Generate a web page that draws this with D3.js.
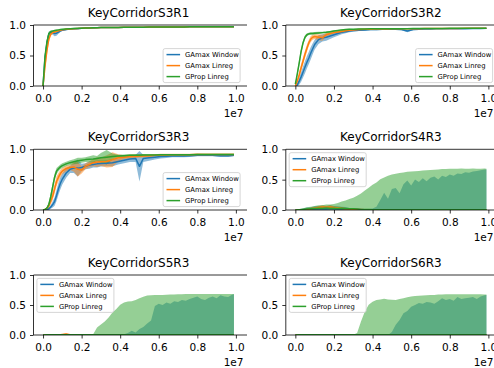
<!DOCTYPE html>
<html><head><meta charset="utf-8">
<script src="https://cdn.jsdelivr.net/npm/d3@7"></script>
<style>body{margin:0;background:#fff}svg{display:block}text{font-family:"DejaVu Sans",sans-serif}</style>
</head><body><svg id="c" width="494" height="368"></svg>
<script>
const titles = ["KeyCorridorS3R1","KeyCorridorS3R2","KeyCorridorS3R3","KeyCorridorS4R3","KeyCorridorS5R3","KeyCorridorS6R3"];
const seriesNames = ["GAmax Window","GAmax Linreg","GProp Linreg"];
const colors = ["#1f77b4","#ff7f0e","#2ca02c"];
const xTicks = [0,0.2,0.4,0.6,0.8,1.0]; // x 1e7
const yTicks = [0,0.5,1.0];

// environment steps, in millions
const stepsA = [0,0.1,0.2,0.3,0.4,0.5,0.6,0.7,0.8,0.9,1.0,1.2,1.4,1.6,1.8,2.0,2.2,2.4,2.6,2.8,3.0,3.3,3.6,3.9,4.2,4.5,4.8,5.0,5.2,5.5,5.8,6.1,6.4,6.7,7.0,7.3,7.6,8.0,8.4,8.8,9.2,9.6,9.9];
const stepsB = [0,0.2,0.4,0.6,0.8,1,1.2,1.4,1.6,1.8,2,2.2,2.4,2.6,2.8,3,3.2,3.4,3.6,3.8,4,4.2,4.4,4.6,4.8,5,5.2,5.4,5.6,5.8,6,6.2,6.4,6.6,6.8,7,7.2,7.4,7.6,7.8,8,8.2,8.4,8.6,8.8,9,9.2,9.4,9.6,9.8,9.9];

// KeyCorridorS3R1
const s3r1Blue = [0,0.45,0.70,0.85,0.88,0.875,0.86,0.865,0.885,0.905,0.915,0.925,0.935,0.94,0.94,0.945,0.95,0.95,0.952,0.955,0.957,0.96,0.96,0.96,0.962,0.963,0.964,0.965,0.965,0.966,0.966,0.967,0.968,0.968,0.969,0.969,0.97,0.97,0.97,0.97,0.97,0.97,0.97];
const s3r1BlueDev = [0,0.06,0.06,0.04,0.03,0.035,0.045,0.04,0.03,0.02,0.015,0.012,0.01,0.015,0.01,0.008,0.007,0.006,0.006,0.005,0.005,0.005,0.004,0.005,0.004,0.004,0.004,0.004,0.004,0.003,0.003,0.003,0.003,0.003,0.003,0.003,0.003,0.003,0.003,0.003,0.003,0.003,0.003];
const s3r1Orange = [0,0.32,0.58,0.77,0.85,0.875,0.885,0.895,0.905,0.915,0.92,0.93,0.935,0.94,0.943,0.946,0.95,0.95,0.953,0.955,0.957,0.96,0.96,0.961,0.962,0.963,0.964,0.965,0.965,0.966,0.966,0.967,0.968,0.968,0.969,0.969,0.97,0.97,0.97,0.97,0.97,0.97,0.97];
const s3r1OrangeDev = [0,0.08,0.07,0.05,0.03,0.02,0.015,0.012,0.01,0.01,0.01,0.008,0.008,0.007,0.006,0.006,0.005,0.005,0.005,0.005,0.004,0.004,0.004,0.004,0.004,0.004,0.004,0.004,0.004,0.004,0.004,0.004,0.004,0.004,0.004,0.004,0.004,0.004,0.004,0.004,0.004,0.004,0.004];
const s3r1Green = [0,0.48,0.72,0.86,0.89,0.90,0.91,0.915,0.92,0.925,0.93,0.935,0.94,0.942,0.945,0.948,0.95,0.952,0.954,0.955,0.957,0.96,0.96,0.961,0.962,0.963,0.964,0.965,0.965,0.966,0.966,0.967,0.968,0.968,0.969,0.969,0.97,0.97,0.97,0.97,0.97,0.97,0.97];
const s3r1GreenDev = [0,0.06,0.05,0.03,0.02,0.015,0.01,0.01,0.008,0.008,0.006,0.006,0.006,0.006,0.006,0.006,0.006,0.006,0.006,0.006,0.004,0.004,0.004,0.004,0.004,0.004,0.004,0.004,0.004,0.004,0.004,0.004,0.004,0.004,0.004,0.004,0.004,0.004,0.004,0.004,0.004,0.004,0.004];

// KeyCorridorS3R2
const s3r2Blue = [0,0.02,0.08,0.15,0.23,0.31,0.39,0.46,0.54,0.61,0.68,0.76,0.79,0.80,0.82,0.84,0.86,0.88,0.89,0.90,0.91,0.915,0.92,0.925,0.925,0.93,0.93,0.93,0.93,0.925,0.90,0.925,0.93,0.935,0.935,0.94,0.94,0.94,0.94,0.94,0.942,0.943,0.945];
const s3r2BlueDev = [0,0.03,0.06,0.08,0.09,0.10,0.10,0.10,0.10,0.09,0.08,0.07,0.06,0.06,0.05,0.04,0.035,0.03,0.025,0.02,0.02,0.015,0.015,0.012,0.012,0.01,0.01,0.01,0.01,0.012,0.02,0.012,0.01,0.008,0.008,0.007,0.007,0.006,0.006,0.006,0.006,0.005,0.005];
const s3r2Orange = [0,0.08,0.18,0.30,0.41,0.52,0.62,0.71,0.77,0.80,0.81,0.80,0.79,0.84,0.86,0.875,0.885,0.895,0.905,0.915,0.92,0.925,0.93,0.93,0.935,0.935,0.935,0.938,0.938,0.94,0.94,0.94,0.94,0.942,0.942,0.943,0.943,0.944,0.944,0.945,0.945,0.945,0.945];
const s3r2OrangeDev = [0,0.03,0.05,0.06,0.06,0.06,0.06,0.05,0.05,0.04,0.04,0.05,0.05,0.03,0.025,0.02,0.02,0.015,0.015,0.012,0.012,0.01,0.01,0.01,0.008,0.008,0.008,0.008,0.008,0.007,0.007,0.007,0.006,0.006,0.006,0.006,0.005,0.005,0.005,0.005,0.005,0.005,0.005];
const s3r2Green = [0.03,0.20,0.38,0.57,0.71,0.80,0.84,0.855,0.86,0.86,0.865,0.87,0.875,0.88,0.89,0.90,0.91,0.92,0.925,0.93,0.93,0.935,0.935,0.937,0.938,0.94,0.94,0.94,0.94,0.94,0.94,0.942,0.942,0.943,0.943,0.944,0.944,0.945,0.945,0.945,0.945,0.945,0.945];
const s3r2GreenDev = [0.02,0.04,0.05,0.05,0.04,0.03,0.025,0.02,0.02,0.02,0.02,0.018,0.015,0.015,0.012,0.012,0.01,0.01,0.01,0.008,0.006,0.006,0.006,0.006,0.006,0.006,0.006,0.006,0.006,0.006,0.006,0.006,0.006,0.006,0.006,0.006,0.006,0.006,0.006,0.006,0.006,0.006,0.006];

// KeyCorridorS3R3
const s3r3Blue = [0,0,0.01,0.02,0.05,0.09,0.14,0.24,0.35,0.44,0.51,0.61,0.67,0.69,0.69,0.70,0.72,0.74,0.75,0.76,0.765,0.77,0.78,0.80,0.82,0.84,0.85,0.72,0.85,0.86,0.87,0.88,0.885,0.89,0.89,0.89,0.895,0.90,0.90,0.90,0.895,0.895,0.90];
const s3r3BlueDev = [0,0.005,0.01,0.02,0.03,0.05,0.07,0.09,0.10,0.10,0.09,0.08,0.06,0.08,0.14,0.06,0.05,0.06,0.05,0.06,0.05,0.05,0.06,0.05,0.05,0.05,0.06,0.25,0.06,0.05,0.04,0.03,0.03,0.02,0.02,0.02,0.02,0.015,0.015,0.015,0.02,0.02,0.015];
const s3r3Orange = [0,0.01,0.03,0.07,0.15,0.23,0.35,0.47,0.54,0.60,0.64,0.685,0.70,0.71,0.67,0.66,0.72,0.75,0.78,0.79,0.795,0.80,0.83,0.86,0.87,0.88,0.885,0.89,0.89,0.895,0.90,0.905,0.905,0.91,0.91,0.91,0.91,0.915,0.915,0.915,0.915,0.915,0.915];
const s3r3OrangeDev = [0,0.01,0.02,0.04,0.06,0.07,0.08,0.08,0.07,0.06,0.05,0.05,0.04,0.08,0.12,0.06,0.05,0.05,0.06,0.08,0.07,0.10,0.12,0.06,0.03,0.03,0.03,0.025,0.025,0.02,0.02,0.02,0.02,0.015,0.015,0.015,0.015,0.015,0.012,0.012,0.012,0.012,0.012];
const s3r3Green = [0,0.01,0.03,0.09,0.22,0.38,0.54,0.64,0.68,0.71,0.73,0.76,0.78,0.795,0.81,0.82,0.83,0.835,0.84,0.85,0.86,0.87,0.88,0.89,0.895,0.90,0.90,0.90,0.905,0.905,0.905,0.91,0.91,0.91,0.91,0.91,0.91,0.915,0.915,0.915,0.915,0.915,0.915];
const s3r3GreenDev = [0,0.01,0.02,0.04,0.06,0.07,0.06,0.05,0.04,0.04,0.04,0.035,0.04,0.04,0.05,0.04,0.04,0.05,0.06,0.04,0.08,0.12,0.05,0.02,0.02,0.02,0.02,0.02,0.015,0.015,0.015,0.012,0.012,0.012,0.012,0.01,0.01,0.01,0.01,0.01,0.01,0.01,0.01];

// KeyCorridorS4R3
const s4r3Blue = [0,0,0.005,0.01,0.015,0.02,0.02,0.025,0.02,0.03, 0.025,0.02,0.025,0.02,0.015,0.01,0.01,0.008,0.005,0.005, 0.004,0.004,0.005,0.006,0.005,0.004,0.004,0.005,0.004,0.004, 0.004,0.004,0.003,0.003,0.003,0.003,0.003,0.003,0.003,0.003, 0.003,0.003,0.003,0.003,0.003,0.003,0.003,0.003,0.003,0.003, 0.003];
const s4r3BlueDev = [0,0.01,0.02,0.03,0.03,0.04,0.04,0.05,0.04,0.05, 0.04,0.04,0.03,0.03,0.02,0.02,0.02,0.01,0.01,0.01, 0.02,0.05,0.16,0.28,0.18,0.34,0.36,0.27,0.42,0.48, 0.40,0.50,0.46,0.52,0.47,0.53,0.55,0.50,0.56,0.54, 0.58,0.56,0.60,0.59,0.62,0.61,0.63,0.64,0.65,0.665, 0.665];
const s4r3Orange = [0,0,0.005,0.01,0.02,0.03,0.04,0.05,0.045,0.05, 0.04,0.035,0.03,0.02,0.015,0.01,0.01,0.008,0.006,0.005, 0.004,0.004,0.004,0.004,0.004,0.003,0.003,0.003,0.003,0.003, 0.003,0.003,0.003,0.003,0.003,0.003,0.003,0.003,0.003,0.003, 0.003,0.003,0.003,0.003,0.003,0.003,0.003,0.003,0.003,0.003, 0.003];
const s4r3OrangeDev = [0,0.005,0.01,0.015,0.02,0.02,0.025,0.03,0.025,0.03, 0.02,0.02,0.02,0.015,0.01,0.01,0.01,0.005,0.005,0.005, 0.003,0.003,0.003,0.003,0.003,0.003,0.003,0.003,0.003,0.003, 0.003,0.003,0.003,0.003,0.003,0.003,0.003,0.003,0.003,0.003, 0.003,0.003,0.003,0.003,0.003,0.003,0.003,0.003,0.003,0.003, 0.003];
const s4r3Green = [0,0.005,0.01,0.015,0.02,0.025,0.03,0.03,0.035,0.03, 0.03,0.025,0.03,0.025,0.02,0.02,0.015,0.01,0.01,0.008, 0.006,0.005,0.005,0.005,0.004,0.004,0.004,0.004,0.004,0.004, 0.004,0.004,0.004,0.004,0.004,0.004,0.004,0.004,0.004,0.004, 0.004,0.004,0.004,0.004,0.004,0.004,0.004,0.004,0.004,0.004, 0.004];
const s4r3GreenDev = [0,0.01,0.02,0.03,0.035,0.04,0.05,0.05,0.055,0.06, 0.07,0.09,0.11,0.13,0.16,0.18,0.22,0.26,0.31,0.36, 0.41,0.45,0.50,0.53,0.56,0.58,0.595,0.605,0.615,0.625, 0.63,0.635,0.64,0.645,0.65,0.655,0.66,0.665,0.67,0.67, 0.675,0.675,0.675,0.68,0.675,0.675,0.678,0.675,0.675,0.678, 0.675];

// KeyCorridorS5R3
const s5r3Blue = [0,0.002,0.002,0.002,0.002,0.002,0.002,0.002,0.002,0.002, 0.002,0.002,0.002,0.002,0.002,0.002,0.002,0.002,0.002,0.002, 0.002,0.002,0.002,0.002,0.002,0.002,0.002,0.002,0.002,0.002, 0.002,0.002,0.002,0.002,0.002,0.002,0.002,0.002,0.002,0.002, 0.002,0.002,0.002,0.002,0.002,0.002,0.002,0.002,0.002,0.002, 0.002];
const s5r3BlueDev = [0,0,0,0,0,0,0,0,0,0, 0,0,0,0,0,0,0,0,0,0, 0.005,0.01,0.03,0.07,0.04,0.10,0.13,0.19,0.24,0.48, 0.52,0.50,0.54,0.52,0.56,0.55,0.58,0.57,0.60,0.62, 0.64,0.60,0.58,0.62,0.64,0.61,0.66,0.64,0.63,0.67, 0.678];
const s5r3Orange = [0,0,0,0,0.002,0.008,0.015,0.006,0.002,0.002, 0.002,0.002,0.002,0.002,0.002,0.002,0.002,0.002,0.002,0.002, 0.002,0.002,0.002,0.002,0.002,0.002,0.002,0.002,0.002,0.002, 0.002,0.002,0.002,0.002,0.002,0.002,0.002,0.002,0.002,0.002, 0.002,0.002,0.002,0.002,0.002,0.002,0.002,0.002,0.002,0.002, 0.002];
const s5r3OrangeDev = [0,0,0,0,0.003,0.008,0.012,0.006,0.002,0, 0,0,0,0,0,0,0,0,0,0, 0,0,0,0,0,0,0,0,0,0, 0,0,0,0,0,0,0,0,0,0, 0,0,0,0,0,0,0,0,0,0, 0];
const s5r3Green = [0,0.003,0.003,0.003,0.003,0.003,0.003,0.003,0.003,0.003, 0.003,0.003,0.003,0.003,0.003,0.003,0.003,0.003,0.003,0.003, 0.003,0.003,0.003,0.003,0.003,0.003,0.003,0.003,0.003,0.003, 0.003,0.003,0.003,0.003,0.003,0.003,0.003,0.003,0.003,0.003, 0.003,0.003,0.003,0.003,0.003,0.003,0.003,0.003,0.003,0.003, 0.003];
const s5r3GreenDev = [0,0,0,0,0,0,0,0.005,0.005,0.005, 0.005,0.005,0.005,0.01,0.12,0.17,0.22,0.29,0.37,0.43, 0.50,0.54,0.555,0.56,0.58,0.61,0.635,0.655,0.66,0.665, 0.665,0.665,0.668,0.67,0.67,0.675,0.675,0.68,0.68,0.68, 0.68,0.68,0.68,0.68,0.68,0.68,0.68,0.68,0.68,0.68, 0.68];

// KeyCorridorS6R3
const s6r3Blue = [0,0.002,0.002,0.002,0.002,0.002,0.002,0.002,0.002,0.002, 0.002,0.002,0.002,0.002,0.002,0.002,0.002,0.002,0.002,0.002, 0.002,0.002,0.002,0.002,0.002,0.002,0.002,0.002,0.002,0.002, 0.002,0.002,0.002,0.002,0.002,0.002,0.002,0.002,0.002,0.002, 0.002,0.002,0.002,0.002,0.002,0.002,0.002,0.002,0.002,0.002, 0.002];
const s6r3BlueDev = [0,0,0,0,0,0,0,0,0,0, 0,0,0,0,0,0,0,0,0,0, 0,0,0,0,0,0.05,0.17,0.25,0.36,0.40, 0.47,0.50,0.53,0.52,0.55,0.54,0.52,0.56,0.61,0.58, 0.60,0.57,0.63,0.60,0.61,0.62,0.63,0.60,0.64,0.66, 0.665];
const s6r3Orange = [0,0.001,0.001,0.001,0.001,0.001,0.001,0.001,0.001,0.001, 0.001,0.001,0.001,0.001,0.001,0.001,0.001,0.001,0.001,0.001, 0.001,0.001,0.001,0.001,0.001,0.001,0.001,0.001,0.001,0.001, 0.001,0.001,0.001,0.001,0.001,0.001,0.001,0.001,0.001,0.001, 0.001,0.001,0.001,0.001,0.001,0.001,0.001,0.001,0.001,0.001, 0.001];
const s6r3OrangeDev = [0,0,0,0,0,0,0,0,0,0, 0,0,0,0,0,0,0,0,0,0, 0,0,0,0,0,0,0,0,0,0, 0,0,0,0,0,0,0,0,0,0, 0,0,0,0,0,0,0,0,0,0, 0];
const s6r3Green = [0,0.003,0.003,0.003,0.003,0.003,0.003,0.003,0.003,0.003, 0.003,0.003,0.003,0.003,0.003,0.003,0.003,0.003,0.003,0.003, 0.003,0.003,0.003,0.003,0.003,0.003,0.003,0.003,0.003,0.003, 0.003,0.003,0.003,0.003,0.003,0.003,0.003,0.003,0.003,0.003, 0.003,0.003,0.003,0.003,0.003,0.003,0.003,0.003,0.003,0.003, 0.003];
const s6r3GreenDev = [0,0,0,0,0,0,0,0,0,0, 0,0,0,0,0,0,0.03,0.22,0.39,0.50, 0.55,0.58,0.59,0.60,0.59,0.585,0.58,0.595,0.61,0.625, 0.64,0.645,0.65,0.655,0.66,0.665,0.665,0.67,0.67,0.675, 0.675,0.675,0.675,0.675,0.675,0.675,0.675,0.675,0.675,0.67, 0.67];

const panels = [
  {col:0,row:0,steps:stepsA,loc:"lr",series:[[s3r1Blue,s3r1BlueDev],[s3r1Orange,s3r1OrangeDev],[s3r1Green,s3r1GreenDev]]},
  {col:1,row:0,steps:stepsA,loc:"lr",series:[[s3r2Blue,s3r2BlueDev],[s3r2Orange,s3r2OrangeDev],[s3r2Green,s3r2GreenDev]]},
  {col:0,row:1,steps:stepsA,loc:"lr",series:[[s3r3Blue,s3r3BlueDev],[s3r3Orange,s3r3OrangeDev],[s3r3Green,s3r3GreenDev]]},
  {col:1,row:1,steps:stepsB,loc:"ul",series:[[s4r3Blue,s4r3BlueDev],[s4r3Orange,s4r3OrangeDev],[s4r3Green,s4r3GreenDev]]},
  {col:0,row:2,steps:stepsB,loc:"ul",series:[[s5r3Blue,s5r3BlueDev],[s5r3Orange,s5r3OrangeDev],[s5r3Green,s5r3GreenDev]]},
  {col:1,row:2,steps:stepsB,loc:"ul",series:[[s6r3Blue,s6r3BlueDev],[s6r3Orange,s6r3OrangeDev],[s6r3Green,s6r3GreenDev]]}
];

const colL = [33.5, 285.8], colR = [243.5, 496], colEdge = [247, 494];
const rowT = [25, 149.3, 275], rowB = [86, 210, 335];
const xDomain = [-0.495e6, 10.395e6];
const tickFont = 10.5, titleFont = 12, legFont = 6.8;

const svg = d3.select("#c");
const defs = svg.append("defs");

panels.forEach((p, i) => {
  const L = colL[p.col], R = colR[p.col], E = colEdge[p.col], T = rowT[p.row], B = rowB[p.row];
  const x = d3.scaleLinear().domain(xDomain).range([L, R]);
  const y = d3.scaleLinear().domain([0, 1]).range([B, T]);
  const g = svg.append("g");
  defs.append("clipPath").attr("id", "cp" + i).append("rect")
    .attr("x", L).attr("y", T).attr("width", R - L).attr("height", B - T);
  const plot = g.append("g").attr("clip-path", `url(#cp${i})`);
  const rows = p.series.map(([m, d]) => p.steps.map((s, j) => ({x: s * 1e6, m: m[j], d: d[j]})));
  const area = d3.area().x(v => x(v.x)).y0(v => y(v.m - v.d)).y1(v => y(v.m + v.d));
  const line = d3.line().x(v => x(v.x)).y(v => y(v.m));
  rows.forEach((r, k) => plot.append("path").datum(r).attr("d", area)
    .attr("fill", colors[k]).attr("fill-opacity", 0.5));
  rows.forEach((r, k) => plot.append("path").datum(r).attr("d", line)
    .attr("fill", "none").attr("stroke", colors[k]).attr("stroke-width", 1.5).attr("stroke-linejoin","round"));

  // axes
  const xa = g.append("g").attr("transform", `translate(0,${B})`)
    .call(d3.axisBottom(x).tickValues(xTicks.map(t => t * 1e7)).tickFormat(d => (d / 1e7).toFixed(1)).tickSize(3.5).tickPadding(5));
  const ya = g.append("g").attr("transform", `translate(${L},0)`)
    .call(d3.axisLeft(y).tickValues(yTicks).tickFormat(d3.format(".1f")).tickSize(3.5).tickPadding(4));
  [xa, ya].forEach(a => {
    a.select(".domain").remove();
    a.selectAll("line").attr("stroke", "#000").attr("stroke-width", 0.8);
    a.selectAll("text").attr("fill", "#000").style("font-size", tickFont + "px").style("font-family", '"DejaVu Sans",sans-serif');
  });
  // spines
  [[L, T, E, T], [L, B, E, B], [L, T, L, B]].forEach(([x1, y1, x2, y2]) =>
    g.append("line").attr("x1", x1).attr("y1", y1).attr("x2", x2).attr("y2", y2)
      .attr("stroke", "#000").attr("stroke-width", 0.8));
  // offset text
  g.append("text").attr("x", Math.min(R, 493.5)).attr("y", B + 30.5).attr("text-anchor", "end")
    .style("font-size", tickFont + "px").attr("fill", "#000").text("1e7");
  // title
  g.append("text").attr("x", (L + R) / 2).attr("y", T - 8).attr("text-anchor", "middle")
    .style("font-size", titleFont + "px").attr("fill", "#000").text(titles[i]);
  // legend
  const w = 77, h = 34, pad = 3.4;
  const x0 = p.loc === "lr" ? R - pad - w : L + pad;
  const y0 = p.loc === "lr" ? B - pad - h : T + pad;
  const lg = g.append("g");
  lg.append("rect").attr("x", x0).attr("y", y0).attr("width", w).attr("height", h).attr("rx", 2)
    .attr("fill", "#fff").attr("fill-opacity", 0.8).attr("stroke", "#cccccc").attr("stroke-width", 0.8);
  seriesNames.forEach((nm, k) => {
    const cy = y0 + 6 + 11 * k;
    lg.append("line").attr("x1", x0 + 3.4).attr("x2", x0 + 17).attr("y1", cy).attr("y2", cy)
      .attr("stroke", colors[k]).attr("stroke-width", 1.5);
    lg.append("text").attr("x", x0 + 22).attr("y", cy + 2.4).style("font-size", legFont + "px")
      .attr("fill", "#000").text(nm);
  });
});
</script></body></html>
